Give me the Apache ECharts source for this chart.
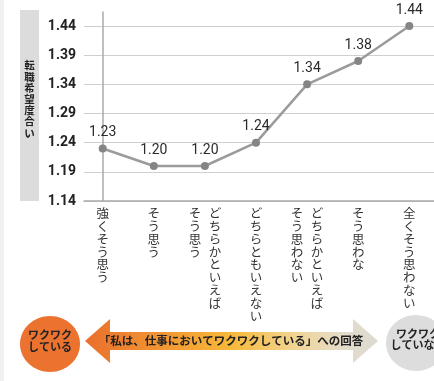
<!DOCTYPE html>
<html>
<head>
<meta charset="utf-8">
<script src="https://cdn.jsdelivr.net/npm/echarts@6/dist/echarts.min.js"></script>
<style>
  html, body { margin: 0; padding: 0; background: #fff; }
  #chart { width: 434px; height: 381px; }
</style>
</head>
<body>
<div id="chart"></div>
<script>
// 回答カテゴリ ('|' で縦書きの列を分ける、最初の列が右)
const categories = [
  '強くそう思う',
  'そう思う',
  'どちらかといえば|そう思う',
  'どちらともいえない',
  'どちらかといえば|そう思わない',
  'そう思わな',
  '全くそう思わない'
]
// 転職希望度合い
const values = [1.23, 1.20, 1.20, 1.24, 1.34, 1.38, 1.44]
// y軸の目盛り
const yTicks = [1.14, 1.19, 1.24, 1.29, 1.34, 1.39, 1.44]
const yName = '転職希望度合い'

const JP = 'Noto Sans CJK JP'

// 縦書きラベル
function verticalLabel (name) {
  const cols = name.split('|')
  const n = Math.max(...cols.map(c => c.length))
  const lines = []
  for (let i = 0; i < n; i++) {
    let line = ''
    for (let j = cols.length - 1; j >= 0; j--) {
      line += '{c|' + (cols[j][i] || '\u3000') + '}'
    }
    lines.push(line)
  }
  return lines.join('\n')
}

const chart = echarts.init(document.getElementById('chart'), null, { renderer: 'canvas' })

const option = {
  animation: false,
  grid: { left: 84, right: 0, top: 12, bottom: 180 },
  xAxis: {
    type: 'value',
    min: -0.366,
    max: 6.483,
    splitLine: { show: false },
    axisTick: { show: false },
    axisLine: { show: true, onZero: false, lineStyle: { color: '#aaa', width: 1.5 } },
    axisLabel: {
      customValues: categories.map((c, i) => i),
      margin: 6,
      formatter: v => verticalLabel(categories[v]),
      rich: {
        c: {
          width: 20,
          align: 'center',
          fontFamily: JP,
          fontSize: 12.5,
          lineHeight: 12.8,
          color: '#333'
        }
      }
    }
  },
  yAxis: {
    type: 'value',
    min: yTicks[0],
    max: 1.464,
    interval: 0.05,
    axisLine: { show: true, lineStyle: { color: '#aaa', width: 1.5 } },
    axisTick: { show: false },
    splitLine: { show: true, showMaxLine: false, lineStyle: { color: '#cfcfcf', width: 1 } },
    axisLabel: {
      showMaxLabel: false,
      margin: 8,
      fontFamily: 'Roboto',
      fontWeight: 'bold',
      fontSize: 14,
      color: '#222',
      formatter: v => v.toFixed(2)
    }
  },
  series: [{
    type: 'line',
    data: values.map((v, i) => [i, v]),
    symbol: 'circle',
    symbolSize: 8,
    itemStyle: { color: '#858585' },
    lineStyle: { color: '#9b9b9b', width: 2.5 },
    label: {
      show: true,
      position: 'top',
      distance: 5,
      fontFamily: 'Roboto',
      fontSize: 14,
      color: '#2a2a2a',
      formatter: p => p.value[1].toFixed(2)
    },
    z: 3
  }],
  graphic: [
    { type: 'rect', z: -10, shape: { x: 0, y: 0, width: 4, height: 381 }, style: { fill: '#f0f0f0' } },
    { type: 'rect', z: -10, shape: { x: 20, y: 10, width: 19, height: 191 }, style: { fill: '#dcdcdc' } },
    {
      type: 'text', x: 29.5, y: 99,
      style: {
        text: yName.split('').join('\n'), align: 'center', verticalAlign: 'middle',
        fontFamily: JP, fontWeight: 'bold', fontSize: 10.5, lineHeight: 11.2, fill: '#222'
      }
    },
    // 左の丸
    { type: 'ellipse', shape: { cx: 50, cy: 344, rx: 30, ry: 28 }, style: { fill: '#ec722f' } },
    {
      type: 'text', x: 50, y: 341,
      style: {
        text: 'ワクワク\nしている', align: 'center', verticalAlign: 'middle',
        fontFamily: JP, fontWeight: 'bold', fontSize: 11, lineHeight: 12, fill: '#222'
      }
    },
    // 矢印
    {
      type: 'polygon',
      shape: {
        points: [[85, 341], [110, 319], [110, 332], [353, 332], [353, 319], [378, 341],
          [353, 363], [353, 350], [110, 350], [110, 363]]
      },
      style: {
        fill: new echarts.graphic.LinearGradient(0, 0, 1, 0, [
          { offset: 0, color: '#ea6f2c' },
          { offset: 0.5, color: '#f7b93a' },
          { offset: 0.72, color: '#f1d595' },
          { offset: 0.88, color: '#e4dccb' },
          { offset: 1, color: '#dedad2' }
        ])
      }
    },
    {
      type: 'text', x: 231, y: 341,
      style: {
        text: '「私は、仕事においてワクワクしている」への回答', align: 'center', verticalAlign: 'middle',
        fontFamily: JP, fontWeight: 'bold', fontSize: 11.5, fill: '#222'
      }
    },
    // 右の丸
    { type: 'ellipse', shape: { cx: 416, cy: 343, rx: 30, ry: 28 }, style: { fill: '#dddddd' } },
    {
      type: 'text', x: 418, y: 339,
      style: {
        text: 'ワクワク\nしていない', align: 'center', verticalAlign: 'middle',
        fontFamily: JP, fontWeight: 'bold', fontSize: 11, lineHeight: 11, fill: '#222'
      }
    }
  ]
}

chart.setOption(option)
</script>
</body>
</html>
